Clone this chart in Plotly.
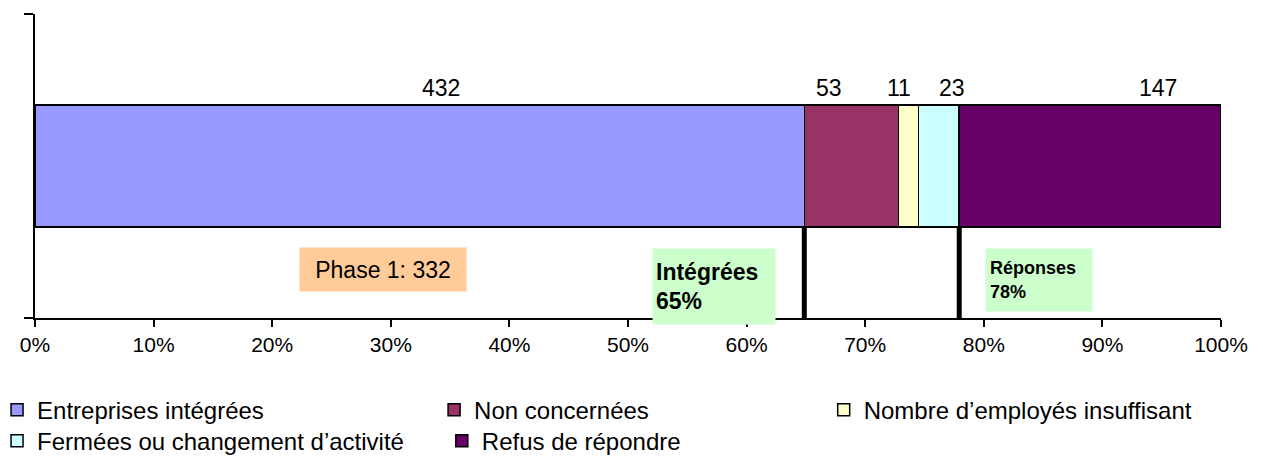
import plotly.graph_objects as go

categories = ["Entreprises intégrées", "Non concernées", "Nombre d’employés insuffisant",
              "Fermées ou changement d’activité", "Refus de répondre"]
counts = [432, 53, 11, 23, 147]
colors = ["#9999FF", "#993366", "#FFFFCC", "#CCFFFF", "#660066"]
x_ticks = [0, 0.1, 0.2, 0.3, 0.4, 0.5, 0.6, 0.7, 0.8, 0.9, 1.0]
phase_label = "Phase 1: 332"
integrees_label = "Intégrées<br>65%"
reponses_label = "Réponses<br>78%"

total = sum(counts)
shares = [c / total for c in counts]
cum = []
acc = 0
for s in shares:
    cum.append(acc)
    acc += s

FONT = "Liberation Sans, Arial, sans-serif"

fig = go.Figure()
legend_ids = ["legend", "legend2", "legend3", "legend4", "legend5"]
for name, s, col, lg in zip(categories, shares, colors, legend_ids):
    fig.add_trace(go.Bar(
        x=[s], y=[0.5], orientation="h", name=name, width=0.4,
        marker=dict(color=col, line=dict(color="black", width=1.5)),
        legend=lg, hoverinfo="skip"))

# value labels above bar segments (manual offsets as in original)
label_offsets = [0.018, -0.019, -0.008, 0.011, 0.057]
annotations = []
for c, s, st, off in zip(counts, shares, cum, label_offsets):
    annotations.append(dict(x=st + s / 2 + off, y=0.757, xref="x", yref="y",
                            text=str(c), showarrow=False,
                            font=dict(family=FONT, size=23, color="black")))

# thick markers at cumulative thresholds
integ_x = cum[1]
rep_x = cum[4]
shapes = []
for xv in (integ_x, rep_x):
    shapes.append(dict(type="line", xref="x", yref="y", x0=xv, x1=xv, y0=-0.01, y1=0.3,
                       line=dict(color="black", width=5)))

annotations.append(dict(x=0.2935, y=0.158, xref="x", yref="y", text=phase_label,
                        showarrow=False, bgcolor="#FFCC99", width=164, height=41,
                        font=dict(family=FONT, size=23, color="black")))
annotations.append(dict(x=0.5725, y=0.105, xref="x", yref="y", text="<b>" + integrees_label + "</b>",
                        showarrow=False, bgcolor="#CCFFCC", width=116, height=69, borderpad=3,
                        align="left", font=dict(family=FONT, size=23, color="black")))
annotations.append(dict(x=0.8465, y=0.125, xref="x", yref="y", text="<b>" + reponses_label + "</b>",
                        showarrow=False, bgcolor="#CCFFCC", width=98, height=54, borderpad=4,
                        align="left", font=dict(family=FONT, size=18, color="black")))

legend_pos = [(-0.032, -0.303), (0.3365, -0.303), (0.665, -0.303), (-0.032, -0.405), (0.343, -0.405)]
layout_legends = {}
for lg, (lx, ly) in zip(legend_ids, legend_pos):
    layout_legends[lg] = dict(x=lx, y=ly, xanchor="left", yanchor="middle",
                              font=dict(family=FONT, size=24, color="black"),
                              itemwidth=30, bgcolor="rgba(0,0,0,0)")

fig.update_layout(
    width=1263, height=464,
    margin=dict(l=35, r=42, t=14, b=146, autoexpand=False),
    paper_bgcolor="white", plot_bgcolor="white",
    barmode="stack", showlegend=True,
    annotations=annotations, shapes=shapes,
    xaxis=dict(range=[0, 1], tickvals=x_ticks, tickformat=".0%", ticks="outside", ticklen=7,
               tickwidth=2, tickcolor="black", showline=True, linecolor="black", linewidth=2,
               showgrid=False, zeroline=False,
               tickfont=dict(family=FONT, size=21, color="black")),
    yaxis=dict(range=[0, 1], tickvals=[0, 1], ticks="outside", ticklen=9, tickwidth=2,
               tickcolor="black", showticklabels=False, showline=True, linecolor="black",
               linewidth=2, showgrid=False, zeroline=False),
    **layout_legends,
)

fig.write_html("out.html")
